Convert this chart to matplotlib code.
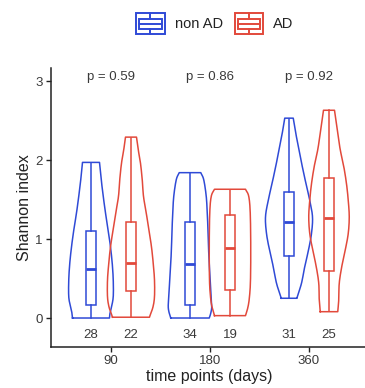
import numpy as np
import matplotlib
matplotlib.use("Agg")
import matplotlib.pyplot as plt
from matplotlib.patches import Rectangle, Patch
from matplotlib.lines import Line2D
from matplotlib.legend_handler import HandlerBase

plt.rcParams['font.family'] = ['Liberation Sans', 'DejaVu Sans']

# ---------------- data ----------------
time_points = ["90", "180", "360"]
groups = ["non AD", "AD"]
p_values = ["p = 0.59", "p = 0.86", "p = 0.92"]
counts_nonad = [28, 34, 31]
counts_ad = [22, 19, 25]

# box stats: (min, q1, median, q3, max)
box_nonad = [
    (0.00, 0.16, 0.62, 1.10, 1.96),
    (0.00, 0.17, 0.68, 1.22, 1.83),
    (0.25, 0.78, 1.21, 1.60, 2.52),
]
box_ad = [
    (0.01, 0.34, 0.70, 1.22, 2.28),
    (0.03, 0.35, 0.88, 1.30, 1.62),
    (0.09, 0.60, 1.26, 1.77, 2.63),
]

# violin outlines: Shannon index levels and relative density
viol_y_nonad = [
    [0.00, 0.06, 0.14, 0.27, 0.48, 0.69, 0.90, 1.11, 1.33, 1.54, 1.75, 1.97],
    [0.00, 0.06, 0.14, 0.27, 0.48, 0.69, 0.90, 1.11, 1.33, 1.54, 1.75, 1.84],
    [0.25, 0.27, 0.44, 0.65, 0.86, 1.07, 1.28, 1.49, 1.70, 1.92, 2.13, 2.34, 2.53],
]
viol_d_nonad = [
    [0.74, 0.76, 0.82, 0.89, 0.89, 0.85, 0.78, 0.69, 0.58, 0.49, 0.41, 0.34],
    [0.77, 0.83, 0.87, 0.85, 0.81, 0.77, 0.74, 0.72, 0.69, 0.65, 0.55, 0.43],
    [0.32, 0.33, 0.50, 0.63, 0.78, 0.90, 0.94, 0.83, 0.68, 0.53, 0.40, 0.27, 0.17],
]
viol_y_ad = [
    [0.01, 0.04, 0.14, 0.27, 0.48, 0.69, 0.90, 1.11, 1.33, 1.54, 1.75, 1.96, 2.13, 2.29],
    [0.03, 0.14, 0.27, 0.48, 0.90, 1.33, 1.54, 1.63],
    [0.08, 0.23, 0.44, 0.65, 0.86, 1.07, 1.28, 1.49, 1.70, 1.92, 2.13, 2.34, 2.63],
]
viol_d_ad = [
    [0.74, 0.77, 0.88, 0.94, 0.94, 0.89, 0.82, 0.72, 0.61, 0.50, 0.45, 0.38, 0.29, 0.22],
    [0.62, 0.72, 0.78, 0.82, 0.83, 0.81, 0.75, 0.62],
    [0.35, 0.39, 0.41, 0.51, 0.65, 0.77, 0.81, 0.77, 0.70, 0.59, 0.45, 0.35, 0.22],
]

# ---------------- style ----------------
BLUE = "#2F4AD6"
RED = "#E2493B"
TXT = "#3a3a3a"
DODGE = 0.202
VSCALE = 25 / 99.0
BOXW = 0.11
LW = 1.1

fig = plt.figure(figsize=(3.65, 3.88), dpi=100)
ax = fig.add_axes([51 / 365, 41 / 388, 317 / 365, 279 / 388])

x = np.arange(len(time_points))


def smooth_curve(ys, ds, n=14):
    P = np.column_stack([ys, ds]).astype(float)
    P = np.vstack([2 * P[0] - P[1], P, 2 * P[-1] - P[-2]])
    out = []
    t = np.linspace(0, 1, n, endpoint=False)[:, None]
    for i in range(1, len(P) - 2):
        p0, p1, p2, p3 = P[i - 1], P[i], P[i + 1], P[i + 2]
        seg = 0.5 * (2 * p1 + (-p0 + p2) * t
                     + (2 * p0 - 5 * p1 + 4 * p2 - p3) * t ** 2
                     + (-p0 + 3 * p1 - 3 * p2 + p3) * t ** 3)
        out.append(seg)
    out.append(P[-2][None])
    S = np.vstack(out)
    return S[:, 0], S[:, 1]


def draw_violin(xc, ys, ds, color):
    yy, dd = smooth_curve(ys, ds)
    hw = dd * VSCALE
    xs = np.concatenate([xc - hw, (xc + hw)[::-1], [xc - hw[0]]])
    yv = np.concatenate([yy, yy[::-1], [yy[0]]])
    ax.plot(xs, yv, color=color, lw=LW, solid_joinstyle='round')


def draw_box(xc, stats, color):
    mn, q1, md, q3, mx = stats
    ax.add_patch(Rectangle((xc - BOXW / 2, q1), BOXW, q3 - q1, fill=False,
                           ec=color, lw=LW))
    ax.plot([xc, xc], [mn, q1], color=color, lw=LW)
    ax.plot([xc, xc], [q3, mx], color=color, lw=LW)
    ax.plot([xc - BOXW / 2, xc + BOXW / 2], [md, md], color=color, lw=2.0,
            solid_capstyle='butt')


for i in range(len(time_points)):
    xn = x[i] - DODGE
    xa = x[i] + DODGE
    draw_violin(xn, viol_y_nonad[i], viol_d_nonad[i], BLUE)
    draw_violin(xa, viol_y_ad[i], viol_d_ad[i], RED)
    draw_box(xn, box_nonad[i], BLUE)
    draw_box(xa, box_ad[i], RED)
    ax.text(xn, -0.215, str(counts_nonad[i]), ha='center', va='center',
            fontsize=9.5, color=TXT)
    ax.text(xa, -0.215, str(counts_ad[i]), ha='center', va='center',
            fontsize=9.5, color=TXT)
    ax.text(x[i], 3.05, p_values[i], ha='center', va='center',
            fontsize=9.5, color=TXT)

ax.set_xlim(-0.606, 2.596)
ax.set_ylim(-0.367, 3.165)
ax.set_xticks(x)
ax.set_xticklabels(time_points)
ax.set_yticks([0, 1, 2, 3])
ax.tick_params(axis='both', length=3.5, width=1.0, color='#222222',
               labelsize=9.5, labelcolor=TXT, pad=2.5)
for s in ['top', 'right']:
    ax.spines[s].set_visible(False)
for s in ['left', 'bottom']:
    ax.spines[s].set_linewidth(1.1)
    ax.spines[s].set_color('#222222')
ax.set_xlabel("time points (days)", fontsize=11.5, color='#222222', labelpad=1.5)
ax.set_ylabel("Shannon index", fontsize=11.5, color='#222222', labelpad=2)


class ViolinBoxHandler(HandlerBase):
    def create_artists(self, legend, orig_handle, xdescent, ydescent,
                       width, height, fontsize, trans):
        c = orig_handle.get_edgecolor()
        x0, y0 = -xdescent, -ydescent
        arts = []
        arts.append(Rectangle((x0, y0), width, height, fill=False, ec=c,
                              lw=1.4, transform=trans))
        arts.append(Rectangle((x0 + 0.1 * width, y0 + 0.27 * height),
                              0.8 * width, 0.46 * height, fill=False, ec=c,
                              lw=1.4, transform=trans))
        arts.append(Line2D([x0 + 0.1 * width, x0 + 0.9 * width],
                           [y0 + 0.5 * height] * 2, color=c, lw=1.4,
                           transform=trans))
        arts.append(Line2D([x0 + 0.5 * width] * 2,
                           [y0, y0 + 0.27 * height], color=c, lw=1.4,
                           transform=trans))
        arts.append(Line2D([x0 + 0.5 * width] * 2,
                           [y0 + 0.73 * height, y0 + height], color=c, lw=1.4,
                           transform=trans))
        return arts


handles = [Patch(facecolor='none', edgecolor=BLUE, label=groups[0]),
           Patch(facecolor='none', edgecolor=RED, label=groups[1])]
fig.legend(handles=handles, loc='center', bbox_to_anchor=(0.589, 0.939),
           ncol=2, frameon=False, fontsize=10.5, handlelength=1.95,
           handleheight=1.85, handletextpad=0.7, columnspacing=0.8,
           borderpad=0, labelcolor='#222222',
           handler_map={Patch: ViolinBoxHandler()})

fig.savefig("out.png", dpi=100)
